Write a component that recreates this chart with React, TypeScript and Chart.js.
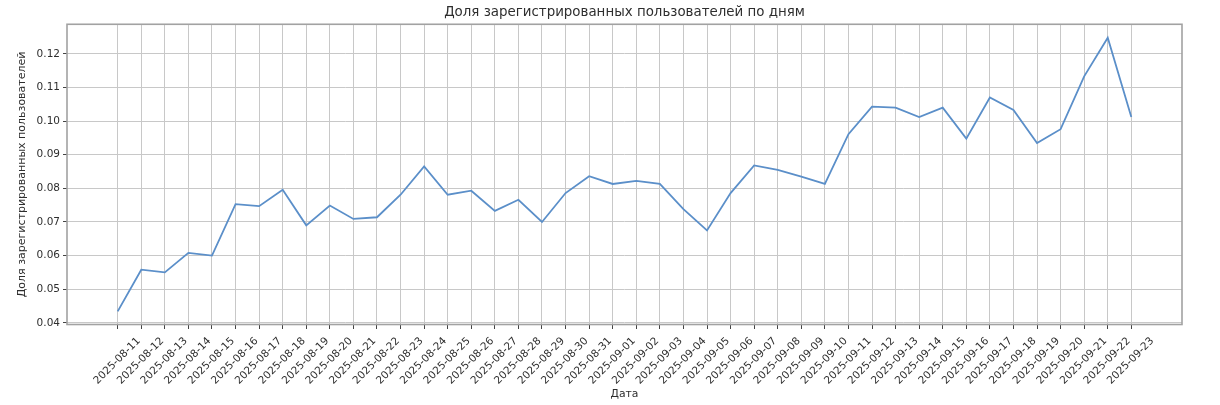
import React, { useEffect, useRef } from "react";
import { Chart, registerables } from "chart.js";

Chart.register(...registerables);

const dates = [
  "2025-08-11", "2025-08-12", "2025-08-13", "2025-08-14", "2025-08-15", "2025-08-16",
  "2025-08-17", "2025-08-18", "2025-08-19", "2025-08-20", "2025-08-21", "2025-08-22",
  "2025-08-23", "2025-08-24", "2025-08-25", "2025-08-26", "2025-08-27", "2025-08-28",
  "2025-08-29", "2025-08-30", "2025-08-31", "2025-09-01", "2025-09-02", "2025-09-03",
  "2025-09-04", "2025-09-05", "2025-09-06", "2025-09-07", "2025-09-08", "2025-09-09",
  "2025-09-10", "2025-09-11", "2025-09-12", "2025-09-13", "2025-09-14", "2025-09-15",
  "2025-09-16", "2025-09-17", "2025-09-18", "2025-09-19", "2025-09-20", "2025-09-21",
  "2025-09-22", "2025-09-23",
];

const shares = [
  0.0434, 0.0558, 0.0550, 0.0608, 0.0600, 0.0753,
  0.0747, 0.0796, 0.0690, 0.0749, 0.0709, 0.0714,
  0.0781, 0.0865, 0.0781, 0.0793, 0.0733, 0.0766,
  0.0700, 0.0786, 0.0836, 0.0813, 0.0822, 0.0813,
  0.0738, 0.0675, 0.0786, 0.0868, 0.0855, 0.0835,
  0.0813, 0.0961, 0.1043, 0.1040, 0.1012, 0.1040,
  0.0948, 0.1070, 0.1033, 0.0935, 0.0976, 0.1133,
  0.1248, 0.1012,
];

const yTicks = [0.04, 0.05, 0.06, 0.07, 0.08, 0.09, 0.1, 0.11, 0.12];

const TITLE = "Доля зарегистрированных пользователей по дням";
const Y_TITLE = "Доля зарегистрированных пользователей";
const X_TITLE = "Дата";

const FONT = "'DejaVu Sans', sans-serif";
const TEXT = "#2e2e2e";
const GRID = "#c8c8c8";
const TICK = "#444444";

const framePlugin = {
  id: "frame",
  afterDatasetsDraw(chart: any) {
    const { ctx, chartArea } = chart;
    const { left, top, right, bottom } = chartArea;
    ctx.save();
    ctx.strokeStyle = "#a2a2a2";
    ctx.lineWidth = 1.6;
    ctx.strokeRect(left, top, right - left, bottom - top);
    ctx.restore();
  },
};

export default function App() {
  const ref = useRef<HTMLCanvasElement | null>(null);

  useEffect(() => {
    if (!ref.current) return;
    const chart = new Chart(ref.current, {
      type: "line",
      data: {
        datasets: [
          {
            label: Y_TITLE,
            data: shares.map((v, i) => ({ x: i, y: v })),
            borderColor: "#5b8fc9",
            backgroundColor: "#5b8fc9",
            borderWidth: 1.8,
            pointRadius: 0,
            pointHoverRadius: 0,
            tension: 0,
            fill: false,
          },
        ],
      },
      options: {
        responsive: false,
        animation: false,
        layout: { padding: { left: 0, right: 38, top: 0, bottom: 0 } },
        plugins: {
          legend: { display: false },
          tooltip: { enabled: false },
          title: {
            display: true,
            text: TITLE,
            fullSize: false,
            color: TEXT,
            font: { family: FONT, size: 13.4, weight: "normal" },
            padding: { top: 4.2, bottom: 4.0 },
          },
        },
        scales: {
          x: {
            type: "linear",
            min: -2.15,
            max: 45.15,
            afterBuildTicks: (scale: any) => {
              scale.ticks = dates.map((_, i) => ({ value: i }));
            },
            afterFit: (scale: any) => {
              scale.height = 80.5;
            },
            ticks: {
              autoSkip: false,
              maxRotation: 45,
              minRotation: 45,
              labelOffset: 21,
              padding: 6,
              color: TEXT,
              font: { family: FONT, size: 10.5 },
              callback: (v: any) => dates[v as number] ?? "",
            },
            grid: {
              color: GRID,
              lineWidth: 1,
              drawTicks: true,
              tickLength: 4.5,
              tickColor: TICK,
              tickWidth: 1,
            },
            border: { display: false },
            title: {
              display: true,
              text: X_TITLE,
              color: TEXT,
              font: { family: FONT, size: 10.8 },
              padding: { top: 0, bottom: 4.5 },
            },
          },
          y: {
            type: "linear",
            min: 0.0395,
            max: 0.1288,
            afterBuildTicks: (scale: any) => {
              scale.ticks = yTicks.map((v) => ({ value: v }));
            },
            afterFit: (scale: any) => {
              scale.width = 67;
            },
            ticks: {
              padding: 3,
              color: TEXT,
              font: { family: FONT, size: 10.5 },
              callback: (v: any) => Number(v).toFixed(2),
            },
            grid: {
              color: GRID,
              lineWidth: 1,
              drawTicks: true,
              tickLength: 4,
              tickColor: TICK,
              tickWidth: 1,
            },
            border: { display: false },
            title: {
              display: true,
              text: Y_TITLE,
              color: TEXT,
              font: { family: FONT, size: 11 },
              padding: { top: 15.4, bottom: 0 },
            },
          },
        },
      },
      plugins: [framePlugin],
    });
    return () => chart.destroy();
  }, []);

  return (
    <div
      style={{
        position: "absolute",
        left: 0,
        top: 0,
        width: 1220,
        height: 405,
        background: "#ffffff",
      }}
    >
      <canvas ref={ref} width={1220} height={405} />
    </div>
  );
}
